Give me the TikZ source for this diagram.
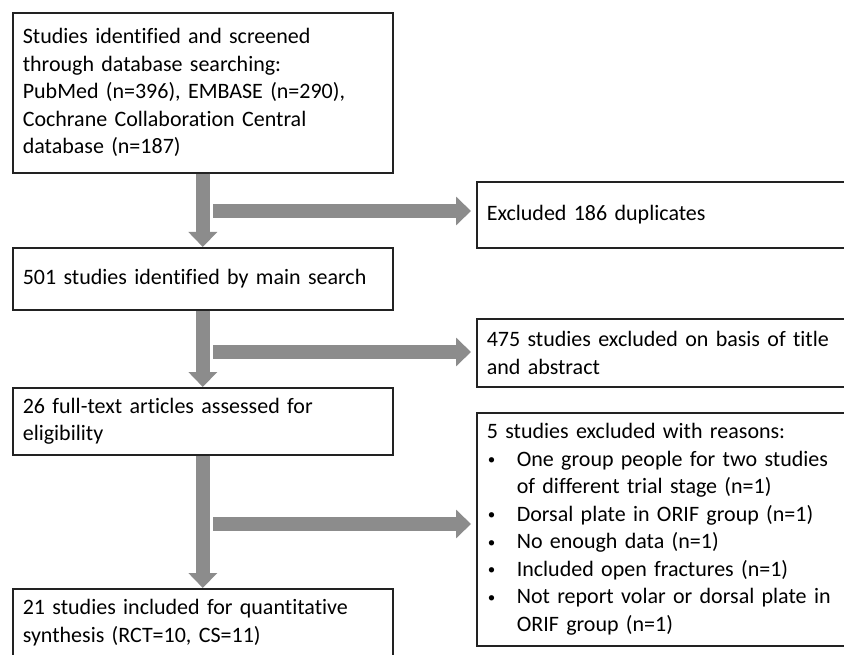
\documentclass[tikz,border=0pt]{standalone}
\usepackage{fontspec}
\setmainfont{Carlito}[Ligatures={NoCommon}]
\usetikzlibrary{arrows.meta,calc}
\definecolor{arrowgray}{RGB}{140,140,140}
\definecolor{boxline}{RGB}{34,34,34}
\tikzset{
  flowbox/.style={draw=boxline, line width=1.6pt, anchor=north west, fill=white,
    text width=360pt, minimum width=380pt, inner xsep=10pt, inner ysep=2pt,
    align=left, font=\fontsize{22}{27.5}\selectfont},
  rightbox/.style={flowbox, text width=364pt, minimum width=384pt},
  fatarrow/.style={draw=arrowgray, line width=14pt,
    -{Triangle[width=28pt,length=15pt,fill=arrowgray]}},
}
\newcommand{\bulletitem}{\makebox[30pt][l]{\hspace*{1pt}\raisebox{1.5pt}{\fontsize{15}{15}\selectfont\textbullet}}}
\newcommand{\bulletcont}{\hspace*{30pt}}
\begin{document}
\begin{tikzpicture}[x=1pt,y=-1pt]
\useasboundingbox (0,0) rectangle (844,655);
\clip (0,0) rectangle (844,655);
\fill[white] (0,0) rectangle (844,655);

\node[flowbox, minimum height=160pt] (b1) at (12,12)
  {Studies identified and screened\\through database searching:\\PubMed (n=396), EMBASE (n=290),\\Cochrane Collaboration Central\\database (n=187)};
\node[flowbox, minimum height=62pt] (b2) at (12,247)
  {501 studies identified by main search};
\node[flowbox, minimum height=67pt] (b3) at (12,387)
  {26 full-text articles assessed for\\eligibility};
\node[flowbox, minimum height=68pt] (b4) at (12,588)
  {21 studies included for quantitative\\synthesis (RCT=10, CS=11)};

\node[rightbox, minimum height=66pt] (e1) at (476,181)
  {Excluded 186 duplicates};
\node[rightbox, minimum height=68pt] (e2) at (476,318)
  {475 studies excluded on basis of title\\and abstract};
\node[rightbox, minimum height=233pt] (e3) at (476,412)
  {5 studies excluded with reasons:\\
   \bulletitem One group people for two studies\\
   \bulletcont of different trial stage (n=1)\\
   \bulletitem Dorsal plate in ORIF group (n=1)\\
   \bulletitem No enough data (n=1)\\
   \bulletitem Included open fractures (n=1)\\
   \bulletitem Not report volar or dorsal plate in\\
   \bulletcont ORIF group (n=1)};

% vertical arrows
\draw[fatarrow] (b1.south) -- (b2.north);
\draw[fatarrow] (b2.south) -- (b3.north);
\draw[fatarrow] (b3.south) -- (b4.north);

% horizontal arrows
\coordinate (h1) at (213,211);
\coordinate (h2) at (213,352);
\coordinate (h3) at (213,524);
\draw[fatarrow, shorten >=5pt] (h1) -- (h1 -| e1.west);
\draw[fatarrow, shorten >=5pt] (h2) -- (h2 -| e2.west);
\draw[fatarrow, shorten >=5pt] (h3) -- (h3 -| e3.west);
\end{tikzpicture}
\end{document}
